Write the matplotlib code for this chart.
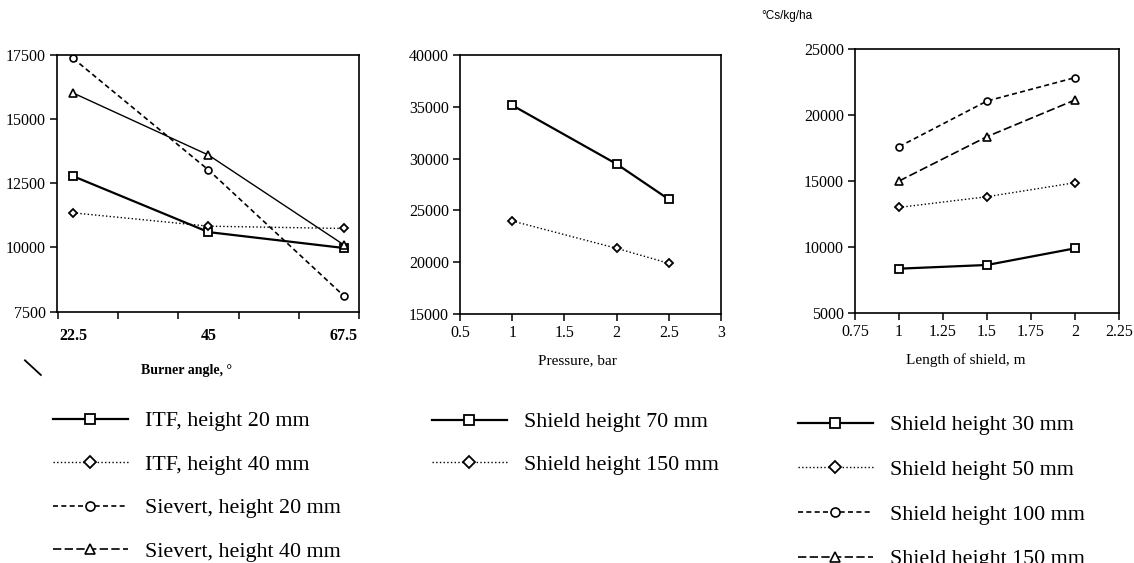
import matplotlib
matplotlib.use('Agg')
import matplotlib.pyplot as plt
from matplotlib.lines import Line2D

plt.rcParams['font.family'] = ['Liberation Serif', 'DejaVu Serif']

# burner angle panel
angle = [22.5, 45, 67.5]
itf_20 = [12780, 10600, 9980]
itf_40 = [11350, 10830, 10740]
sievert_20 = [17370, 13020, 8110]
sievert_40 = [16020, 13600, 10100]
angle_labels = ['ITF, height 20 mm', 'ITF, height 40 mm',
                'Sievert, height 20 mm', 'Sievert, height 40 mm']

# pressure panel
pressure = [1, 2, 2.5]
shield_70 = [35150, 29480, 26070]
shield_150 = [23980, 21340, 19890]
pressure_labels = ['Shield height 70 mm', 'Shield height 150 mm']

# length of shield panel
length = [1, 1.5, 2]
shield_30 = [8360, 8640, 9900]
shield_50 = [13000, 13810, 14870]
shield_100 = [17600, 21060, 22830]
shield_150_len = [15000, 18360, 21140]
length_labels = ['Shield height 30 mm', 'Shield height 50 mm',
                 'Shield height 100 mm', 'Shield height 150 mm']

# line styles
sq = dict(color='black', ls='-', lw=1.6, marker='s', ms=6, mfc='white', mec='black', mew=1.3)
di = dict(color='black', ls=':', lw=1.0, marker='D', ms=4.5, mfc='white', mec='black', mew=1.3)
ci = dict(color='black', ls=(0, (3, 2)), lw=1.2, marker='o', ms=5, mfc='white', mec='black', mew=1.2)
tr = dict(color='black', ls=(0, (5, 2)), lw=1.2, marker='^', ms=6, mfc='white', mec='black', mew=1.2)

fig = plt.figure(figsize=(11.34, 5.63), dpi=100)


def style(ax):
    for s in ax.spines.values():
        s.set_linewidth(1.2)
    ax.tick_params(direction='out', length=5, width=1.1, labelsize=11.5, pad=3)


# --- panel 1: burner angle
ax1 = fig.add_axes([0.0503, 0.4464, 0.2663, 0.456])
ax1.plot(angle, itf_20, **sq)
ax1.plot(angle, itf_40, **di)
ax1.plot(angle, sievert_20, **ci)
ax1.plot(angle, sievert_40, **dict(tr, ls='-', lw=1.0))
ax1.set_xlim(19.85, 69.9)
ax1.set_ylim(7500, 17500)
ax1.set_yticks(range(7500, 17501, 2500))
ax1.set_xticks(range(20, 71, 10))
ax1.set_xticklabels([])
ax1.set_xticks(angle, minor=True)
ax1.set_xticklabels(['22.5', '45', '67.5'], minor=True, fontweight='bold')
style(ax1)
ax1.tick_params(axis='x', which='minor', length=0, pad=12, labelsize=11.5)
ax1.text(0.43, -0.23, 'Burner angle, \u00b0', transform=ax1.transAxes,
         ha='center', va='center', fontsize=10, fontweight='bold')

# --- panel 2: pressure
ax2 = fig.add_axes([0.4056, 0.4423, 0.2302, 0.46])
ax2.plot(pressure, shield_70, **sq)
ax2.plot(pressure, shield_150, **di)
ax2.set_xlim(0.5, 3)
ax2.set_ylim(15000, 40000)
ax2.set_xticks([0.5, 1, 1.5, 2, 2.5, 3])
ax2.set_xticklabels(['0.5', '1', '1.5', '2', '2.5', '3'])
ax2.set_yticks(range(15000, 40001, 5000))
style(ax2)
ax2.text(0.45, -0.18, 'Pressure, bar', transform=ax2.transAxes,
         ha='center', va='center', fontsize=11)

# --- panel 3: length of shield
ax3 = fig.add_axes([0.754, 0.444, 0.2328, 0.469])
ax3.plot(length, shield_30, **sq)
ax3.plot(length, shield_50, **di)
ax3.plot(length, shield_100, **ci)
ax3.plot(length, shield_150_len, **tr)
ax3.set_xlim(0.75, 2.25)
ax3.set_ylim(5000, 25000)
ax3.set_xticks([0.75, 1, 1.25, 1.5, 1.75, 2, 2.25])
ax3.set_xticklabels(['0.75', '1', '1.25', '1.5', '1.75', '2', '2.25'])
ax3.set_yticks(range(5000, 25001, 5000))
style(ax3)
ax3.text(0.42, -0.178, 'Length of shield, m', transform=ax3.transAxes,
         ha='center', va='center', fontsize=11)
fig.text(0.671, 0.972, '\u00b0Cs/kg/ha', family='Liberation Sans', fontsize=8.5,
         ha='left', va='center')

# --- legends under each panel
leg_kw = dict(loc='upper left', frameon=False, fontsize=15.8, handlelength=3.4,
              handletextpad=0.8, borderaxespad=0, borderpad=0,
              numpoints=1, markerscale=1.3)
h1 = [Line2D([], [], **s) for s in (sq, di, ci, tr)]
fig.legend(h1, angle_labels, bbox_to_anchor=(0.0467, 0.27), labelspacing=1.055, **leg_kw)
h2 = [Line2D([], [], **s) for s in (sq, di)]
fig.legend(h2, pressure_labels, bbox_to_anchor=(0.381, 0.268), labelspacing=1.0, **leg_kw)
h3 = [Line2D([], [], **s) for s in (sq, di, ci, tr)]
fig.legend(h3, length_labels, bbox_to_anchor=(0.7037, 0.263), labelspacing=1.11, **leg_kw)

# stray pen mark left of the first legend
fig.add_artist(Line2D([0.022, 0.036], [0.36, 0.334], color='black', lw=1.3))

fig.savefig('out.png', dpi=100)
